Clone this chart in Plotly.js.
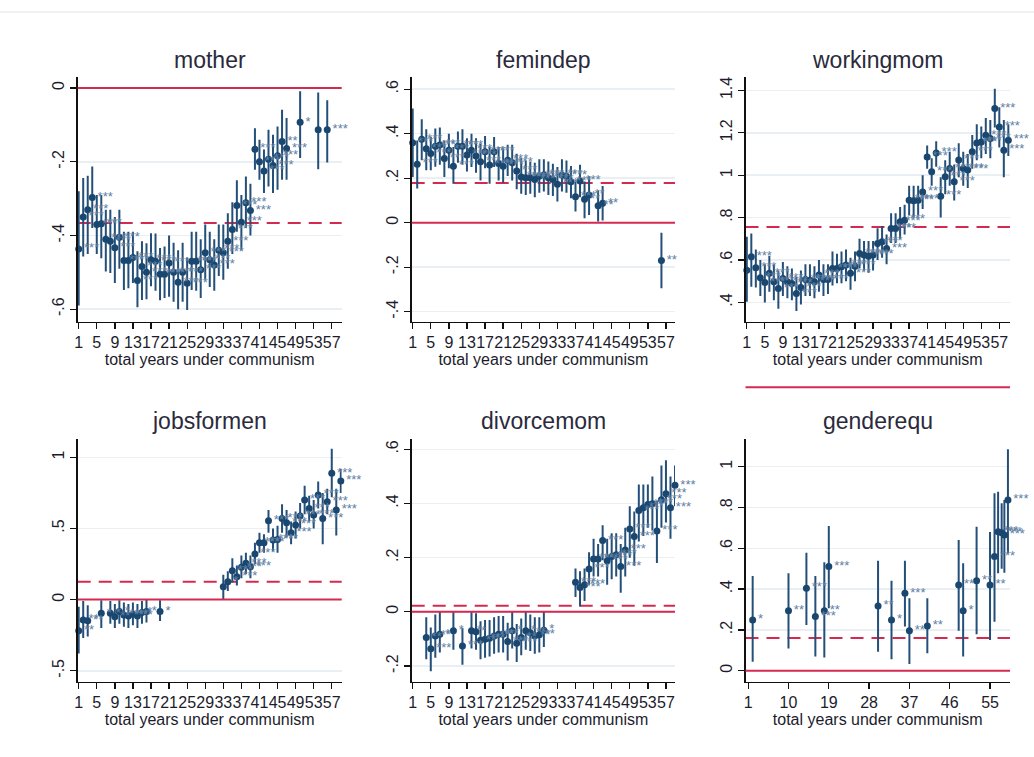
<!DOCTYPE html>
<html><head><meta charset="utf-8">
<script src="https://cdn.plot.ly/plotly-3.0.1.min.js"></script>
<style>html,body{margin:0;padding:0;background:#fff}#chart{width:1034px;height:757px}</style>
</head><body><div id="chart"></div>
<script>
// ---------- data ----------
const panelTitles = ['mother','femindep','workingmom','jobsformen','divorcemom','genderequ'];
const meanLines = [-0.366, 0.179, 0.756, 0.126, 0.022, 0.16];
const zeroLine = 0;
const xAxisTitle = 'total years under communism';

const xTicksStd = [1,5,9,13,17,21,25,29,33,37,41,45,49,53,57];
const xTicksGender = [1,10,19,28,37,46,55];

const motherYTicks = [-0.6,-0.4,-0.2,0];
const motherYLabels = ['-.6','-.4','-.2','0'];
const femindepYTicks = [-0.4,-0.2,0,0.2,0.4,0.6];
const femindepYLabels = ['-.4','-.2','0','.2','.4','.6'];
const workingmomYTicks = [0.4,0.6,0.8,1,1.2,1.4];
const workingmomYLabels = ['.4','.6','.8','1','1.2','1.4'];
const jobsformenYTicks = [-0.5,0,0.5,1];
const jobsformenYLabels = ['-.5','0','.5','1'];
const divorcemomYTicks = [-0.2,0,0.2,0.4,0.6];
const divorcemomYLabels = ['-.2','0','.2','.4','.6'];
const genderequYTicks = [0,0.2,0.4,0.6,0.8,1];
const genderequYLabels = ['0','.2','.4','.6','.8','1'];

// mother
const motherX = [1,2,3,4,5,6,7,8,9,10,11,12,13,14,15,16,17,18,19,20,21,22,23,24,25,26,27,28,29,30,31,32,33,34,35,36,37,38,39,40,41,42,43,44,45,46,47,50,54,56];
const motherY = [-0.437,-0.35,-0.33,-0.297,-0.37,-0.368,-0.41,-0.416,-0.433,-0.405,-0.468,-0.468,-0.46,-0.522,-0.484,-0.5,-0.466,-0.47,-0.505,-0.505,-0.475,-0.5,-0.527,-0.5,-0.53,-0.47,-0.47,-0.493,-0.447,-0.466,-0.48,-0.44,-0.447,-0.416,-0.384,-0.319,-0.364,-0.311,-0.332,-0.166,-0.2,-0.225,-0.193,-0.21,-0.184,-0.145,-0.164,-0.093,-0.113,-0.113];
const motherLo = [-0.59,-0.457,-0.45,-0.38,-0.45,-0.462,-0.498,-0.502,-0.529,-0.49,-0.548,-0.543,-0.529,-0.595,-0.575,-0.573,-0.538,-0.55,-0.576,-0.57,-0.566,-0.58,-0.6,-0.58,-0.602,-0.548,-0.55,-0.57,-0.52,-0.54,-0.55,-0.51,-0.52,-0.49,-0.45,-0.39,-0.44,-0.38,-0.4,-0.222,-0.249,-0.285,-0.267,-0.285,-0.276,-0.249,-0.249,-0.19,-0.22,-0.202];
const motherHi = [-0.28,-0.244,-0.238,-0.213,-0.29,-0.29,-0.33,-0.33,-0.35,-0.33,-0.39,-0.39,-0.39,-0.443,-0.416,-0.421,-0.394,-0.395,-0.434,-0.43,-0.4,-0.42,-0.44,-0.42,-0.46,-0.39,-0.39,-0.41,-0.37,-0.39,-0.41,-0.37,-0.37,-0.34,-0.31,-0.25,-0.29,-0.24,-0.26,-0.109,-0.14,-0.167,-0.113,-0.127,-0.104,-0.059,-0.081,-0.009,-0.012,-0.033];
const motherStars = ['***','***','***','***','***','***','***','***','***','***','***','***','***','***','***','***','***','***','***','***','***','***','***','***','***','***','***','***','***','***','***','***','***','***','***','***','***','***','***','***','***','***','***','***','***','**','***','*','','***'];

// femindep
const femindepX = [1,2,3,4,5,6,7,8,9,10,11,12,13,14,15,16,17,18,19,20,21,22,23,24,25,26,27,28,29,30,31,32,33,34,35,36,37,38,39,40,42,43,56];
const femindepY = [0.359,0.263,0.375,0.333,0.311,0.344,0.349,0.289,0.326,0.254,0.344,0.344,0.304,0.326,0.3,0.274,0.319,0.259,0.319,0.266,0.254,0.281,0.27,0.233,0.206,0.202,0.202,0.194,0.209,0.214,0.202,0.194,0.173,0.214,0.209,0.184,0.117,0.188,0.105,0.124,0.076,0.087,-0.17];
const femindepLo = [0.206,0.154,0.281,0.236,0.236,0.251,0.26,0.205,0.245,0.175,0.27,0.26,0.23,0.25,0.225,0.19,0.245,0.175,0.25,0.19,0.18,0.21,0.19,0.15,0.13,0.125,0.13,0.115,0.135,0.14,0.125,0.12,0.095,0.14,0.135,0.11,0.05,0.115,0.02,0.035,0.005,0.01,-0.295];
const femindepHi = [0.513,0.37,0.465,0.42,0.386,0.423,0.428,0.37,0.4,0.34,0.41,0.42,0.38,0.4,0.38,0.355,0.39,0.34,0.385,0.34,0.33,0.35,0.35,0.31,0.29,0.28,0.275,0.27,0.285,0.285,0.275,0.265,0.25,0.285,0.28,0.255,0.185,0.26,0.185,0.21,0.145,0.165,-0.045];
const femindepStars = ['***','***','***','***','***','***','***','***','***','***','***','***','***','***','***','***','***','***','***','***','***','***','***','***','***','***','***','***','***','***','***','***','***','***','***','***','***','***','**','**','**','**','**'];

// workingmom
const workingmomX = [1,2,3,4,5,6,7,8,9,10,11,12,13,14,15,16,17,18,19,20,21,22,23,24,25,26,27,28,29,30,31,32,33,34,35,36,37,38,39,40,41,42,43,44,45,46,47,48,49,50,51,52,53,54,55,56,57,58,59];
const workingmomY = [0.552,0.615,0.563,0.516,0.494,0.537,0.497,0.466,0.513,0.497,0.489,0.442,0.47,0.508,0.505,0.497,0.529,0.508,0.508,0.56,0.56,0.568,0.576,0.537,0.571,0.631,0.623,0.618,0.623,0.678,0.686,0.654,0.749,0.749,0.78,0.788,0.882,0.879,0.882,0.921,1.086,1.016,1.105,0.901,0.992,1.031,0.969,1.071,1.031,1.024,1.11,1.152,1.157,1.188,1.173,1.314,1.227,1.118,1.165];
const workingmomLo = [0.403,0.474,0.47,0.43,0.4,0.45,0.41,0.37,0.43,0.42,0.41,0.36,0.39,0.43,0.43,0.42,0.45,0.43,0.44,0.48,0.49,0.49,0.5,0.46,0.5,0.56,0.55,0.54,0.55,0.6,0.61,0.58,0.68,0.68,0.7,0.72,0.81,0.8,0.81,0.84,1.03,0.95,1.04,0.8,0.91,0.95,0.88,0.99,0.95,0.94,1.03,1.07,1.08,1.1,1.08,1.225,1.13,0.99,1.09];
const workingmomHi = [0.71,0.725,0.65,0.6,0.58,0.62,0.58,0.55,0.59,0.57,0.56,0.52,0.55,0.58,0.58,0.57,0.6,0.58,0.58,0.64,0.63,0.64,0.65,0.61,0.64,0.7,0.69,0.69,0.69,0.75,0.76,0.72,0.82,0.82,0.85,0.86,0.95,0.95,0.95,1.0,1.14,1.08,1.16,0.99,1.07,1.11,1.05,1.15,1.11,1.1,1.19,1.24,1.23,1.27,1.26,1.408,1.32,1.26,1.24];
const workingmomStars = ['','***','***','***','***','***','***','***','***','***','***','***','***','***','***','***','***','***','***','***','***','***','***','***','***','***','***','***','***','***','***','***','***','***','***','***','***','***','***','***','***','***','***','***','***','***','***','***','***','***','***','***','***','***','***','***','***','***','***'];

// jobsformen
const jobsformenX = [1,2,3,6,8,9,10,11,12,13,14,15,16,19,33,34,35,36,37,38,39,40,41,42,43,44,45,46,47,48,49,50,51,52,53,54,55,56,57,58,59];
const jobsformenY = [-0.219,-0.143,-0.148,-0.096,-0.096,-0.12,-0.084,-0.108,-0.115,-0.103,-0.115,-0.091,-0.084,-0.084,0.091,0.126,0.203,0.16,0.227,0.255,0.231,0.32,0.4,0.4,0.555,0.419,0.423,0.571,0.541,0.47,0.524,0.588,0.7,0.641,0.595,0.735,0.571,0.688,0.888,0.63,0.834];
const jobsformenLo = [-0.378,-0.27,-0.26,-0.2,-0.17,-0.2,-0.17,-0.19,-0.2,-0.18,-0.2,-0.17,-0.16,-0.15,0.0,0.06,0.12,0.1,0.15,0.18,0.15,0.25,0.33,0.33,0.47,0.34,0.33,0.47,0.44,0.39,0.43,0.5,0.6,0.55,0.5,0.64,0.39,0.6,0.72,0.45,0.75];
const jobsformenHi = [-0.05,-0.01,-0.04,-0.005,-0.01,-0.03,-0.005,-0.02,-0.03,-0.02,-0.03,-0.01,0.0,-0.005,0.175,0.2,0.29,0.24,0.31,0.33,0.31,0.4,0.47,0.46,0.63,0.5,0.52,0.67,0.63,0.55,0.62,0.68,0.8,0.73,0.7,0.83,0.75,0.78,1.06,0.78,0.92];
const jobsformenStars = ['**','**','**','*','*','**','*','**','**','**','**','*','*','*','','*','***','***','***','***','***','***','***','***','***','***','***','***','***','***','***','***','***','***','***','***','***','***','***','***','***'];

// divorcemom
const divorcemomX = [4,5,6,7,10,12,14,15,16,17,18,19,20,21,22,23,24,25,26,27,28,29,30,37,38,39,40,41,42,43,44,45,46,47,48,49,50,51,52,53,54,55,56,57,58,59];
const divorcemomY = [-0.095,-0.136,-0.089,-0.083,-0.07,-0.126,-0.07,-0.074,-0.105,-0.101,-0.098,-0.089,-0.083,-0.083,-0.11,-0.07,-0.116,-0.095,-0.07,-0.077,-0.089,-0.085,-0.068,0.109,0.09,0.1,0.158,0.195,0.195,0.263,0.189,0.204,0.211,0.167,0.228,0.306,0.278,0.374,0.384,0.396,0.399,0.298,0.414,0.436,0.384,0.467];
const divorcemomLo = [-0.175,-0.219,-0.17,-0.15,-0.14,-0.195,-0.135,-0.14,-0.175,-0.17,-0.165,-0.155,-0.15,-0.15,-0.18,-0.135,-0.185,-0.16,-0.14,-0.145,-0.155,-0.15,-0.13,0.055,0.02,0.04,0.1,0.13,0.13,0.19,0.1,0.12,0.13,0.07,0.13,0.2,0.17,0.26,0.28,0.31,0.3,0.18,0.31,0.33,0.27,0.39];
const divorcemomHi = [-0.02,-0.058,-0.01,0.0,0.0,-0.06,0.0,-0.005,-0.035,-0.03,-0.03,-0.02,-0.015,-0.015,-0.04,0.0,-0.045,-0.025,0.0,-0.01,-0.02,-0.02,0.0,0.16,0.15,0.16,0.22,0.27,0.25,0.32,0.27,0.29,0.29,0.25,0.31,0.39,0.37,0.47,0.47,0.47,0.5,0.41,0.54,0.56,0.5,0.54];
const divorcemomStars = ['**','***','**','*','*','***','*','*','**','**','**','**','**','**','***','*','***','**','*','**','**','**','*','***','***','***','***','***','***','***','***','***','***','***','***','***','***','***','***','***','***','***','***','***','***','***'];

// genderequ
const genderequX = [2,10,14,16,18,19,30,33,36,37,41,48,49,52,55,56,56.8,57.6,58.2,59];
const genderequY = [0.248,0.294,0.404,0.265,0.294,0.51,0.317,0.248,0.379,0.196,0.219,0.42,0.294,0.441,0.42,0.559,0.681,0.676,0.665,0.837];
const genderequLo = [0.044,0.109,0.224,0.069,0.065,0.306,0.093,0.056,0.216,0.033,0.085,0.196,0.069,0.178,0.15,0.24,0.477,0.5,0.48,0.575];
const genderequHi = [0.464,0.477,0.578,0.464,0.531,0.709,0.539,0.441,0.539,0.355,0.355,0.64,0.526,0.706,0.68,0.869,0.877,0.82,0.836,1.085];
const genderequStars = ['*','**','***','***','**','***','**','*','***','**','**','**','*','**','**','***','***','***','***','***'];

// ---------- layout helpers (positions in px) ----------
const W = 1034, H = 757;
const colPx = [[77.7,341.7],[411.7,675],[745.5,1010]];
const rowPx = [[77,321.7],[439.3,681.7]];
const xRanges = [[0.78,59.2],[0.78,59.0],[0.71,59.37],[0.78,59.2],[0.78,59.0],[0.4,59.46]];
const yRanges = [[-0.634,0.03],[-0.445,0.655],[0.309,1.463],[-0.577,1.127],[-0.258,0.637],[-0.054,1.134]];
const titleYpx = [60,60,60,421,421,421];

const panels = [
  {x:motherX,y:motherY,lo:motherLo,hi:motherHi,s:motherStars,yt:motherYTicks,yl:motherYLabels,xt:xTicksStd},
  {x:femindepX,y:femindepY,lo:femindepLo,hi:femindepHi,s:femindepStars,yt:femindepYTicks,yl:femindepYLabels,xt:xTicksStd},
  {x:workingmomX,y:workingmomY,lo:workingmomLo,hi:workingmomHi,s:workingmomStars,yt:workingmomYTicks,yl:workingmomYLabels,xt:xTicksStd},
  {x:jobsformenX,y:jobsformenY,lo:jobsformenLo,hi:jobsformenHi,s:jobsformenStars,yt:jobsformenYTicks,yl:jobsformenYLabels,xt:xTicksStd},
  {x:divorcemomX,y:divorcemomY,lo:divorcemomLo,hi:divorcemomHi,s:divorcemomStars,yt:divorcemomYTicks,yl:divorcemomYLabels,xt:xTicksStd},
  {x:genderequX,y:genderequY,lo:genderequLo,hi:genderequHi,s:genderequStars,yt:genderequYTicks,yl:genderequYLabels,xt:xTicksGender}
];

const FONT = 'Liberation Sans, Arial, sans-serif';
const NAVY = '#1a476f';
const RED = '#d42a50';
const traces = [];
const layout = {
  width: W, height: H, margin: {l:0,r:0,t:0,b:0},
  paper_bgcolor: '#fff', plot_bgcolor: '#fff', showlegend: false,
  font: {family: FONT, color: '#1f1f2f'},
  shapes: [], annotations: []
};

layout.shapes.push({type:'line', xref:'paper', yref:'paper', x0:0, x1:1, y0:1-12/H, y1:1-12/H,
  line:{color:'#e3e3e3', width:1}});

panels.forEach((p, i) => {
  const n = i + 1;
  const sx = n === 1 ? '' : String(n);
  const col = i % 3, row = Math.floor(i / 3);
  const xd = [colPx[col][0]/W, colPx[col][1]/W];
  const yd = [1 - rowPx[row][1]/H, 1 - rowPx[row][0]/H];
  layout['xaxis'+sx] = {
    domain: xd, anchor: 'y'+sx, range: xRanges[i],
    tickmode: 'array', tickvals: p.xt, ticktext: p.xt.map(String), tickangle: 0,
    ticks: 'outside', ticklen: 6, tickwidth: 1.3, tickcolor: '#111',
    showline: true, linecolor: '#111', linewidth: 1.3,
    showgrid: false, zeroline: false,
    tickfont: {size: 16, family: FONT, color: '#1c1c2c'},
    title: {text: xAxisTitle, font: {size: 16, family: FONT, color: '#1c1c2c'}, standoff: 2}
  };
  layout['yaxis'+sx] = {
    domain: yd, anchor: 'x'+sx, range: yRanges[i],
    tickmode: 'array', tickvals: p.yt, ticktext: p.yl, tickangle: -90,
    ticks: 'outside', ticklen: 6, tickwidth: 1.3, tickcolor: '#111',
    showline: true, linecolor: '#111', linewidth: 1.3,
    showgrid: true, gridcolor: '#e9eff2', gridwidth: 1.5, zeroline: false,
    tickfont: {size: 16, family: FONT, color: '#1c1c2c'}
  };
  const r = yRanges[i];
  const zf = (zeroLine - r[0]) / (r[1] - r[0]);
  const mf = (meanLines[i] - r[0]) / (r[1] - r[0]);
  layout.shapes.push({type:'line', xref:'x'+sx+' domain', yref:'y'+sx+' domain', x0:0, x1:1, y0:zf, y1:zf,
    line:{color:RED, width:2}, layer:'above'});
  layout.shapes.push({type:'line', xref:'x'+sx+' domain', yref:'y'+sx+' domain', x0:0, x1:1, y0:mf, y1:mf,
    line:{color:RED, width:2, dash:'13px,8px'}, layer:'below'});
  layout.annotations.push({xref:'paper', yref:'paper', x:(xd[0]+xd[1])/2, y:1 - titleYpx[i]/H,
    xanchor:'center', yanchor:'middle', showarrow:false, text: panelTitles[i],
    font:{size:23, family:FONT, color:'#2a2a3c'}});
  traces.push({
    type:'scatter', mode:'markers+text', xaxis:'x'+sx, yaxis:'y'+sx,
    x: p.x, y: p.y, text: p.s, textposition:'middle right', cliponaxis:false,
    textfont:{size:13, family:FONT, color:'#5f80a4'},
    marker:{color:NAVY, size:7},
    error_y:{type:'data', symmetric:false,
      array: p.hi.map((h,k) => h - p.y[k]),
      arrayminus: p.lo.map((l,k) => p.y[k] - l),
      color:'#234f78', thickness:2, width:0},
    hoverinfo:'skip'
  });
});

Plotly.newPlot('chart', traces, layout, {displayModeBar:false, staticPlot:true});
</script>
</body></html>
